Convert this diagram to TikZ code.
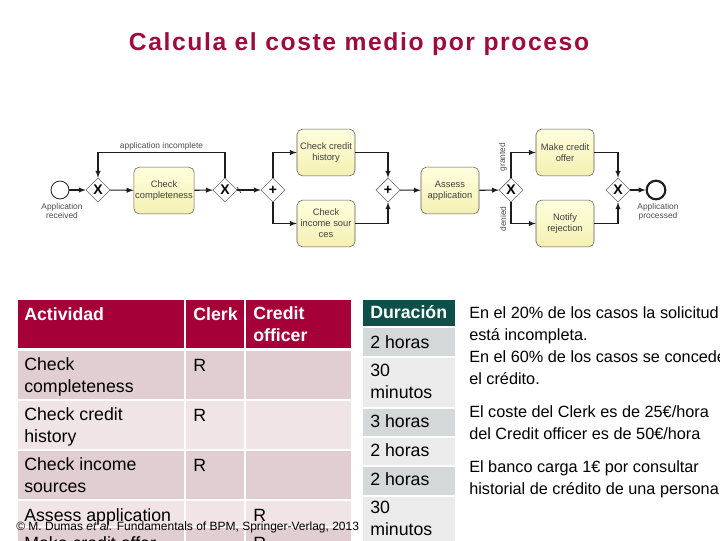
\documentclass[tikz,border=0pt]{standalone}
\usepackage{fontspec}
\setmainfont{Liberation Sans}
\newfontfamily\titlefont[LetterSpace=6.5]{Liberation Sans}
\usetikzlibrary{shapes.geometric}
\usepackage{xcolor}
\definecolor{titlered}{RGB}{158,12,62}
\definecolor{headred}{RGB}{166,0,56}
\definecolor{rowdark}{RGB}{225,206,211}
\definecolor{rowlight}{RGB}{240,228,231}
\definecolor{headgreen}{RGB}{14,80,72}
\definecolor{graydark}{RGB}{213,216,216}
\definecolor{graylight}{RGB}{235,235,235}
\definecolor{taskfill}{RGB}{255,255,222}
\definecolor{taskfill2}{RGB}{244,240,178}
\definecolor{bpmnline}{RGB}{30,30,30}

\begin{document}
\begin{tikzpicture}[x=0.75pt,y=-0.75pt]
\useasboundingbox (0,0) rectangle (720,540);
\clip (0,0) rectangle (720,540);
%%%%%%%%%%%%%%%%%%%%%%%%%%%%%%%%%%%%%%%%%%%%%%%%%%%%%%%%%%%%%%
%TITLE
\node [font=\titlefont\bfseries\fontsize{18.5}{22}\selectfont,text=titlered,anchor=base] (title) at (359,50) {Calcula el coste medio por proceso};

%%%%%%%%%%%%%%%%%%%%%%%%%%%%%%%%%%%%%%%%%%%%%%%%%%%%%%%%%%%%%%
%BPMN
%vars
\tikzstyle{event}=[circle,draw=bpmnline,fill=white,minimum size=13.5pt,inner sep=0pt,line width=0.6pt]
\tikzstyle{endevent}=[circle,draw=bpmnline,fill=white,minimum size=14pt,inner sep=0pt,line width=1.6pt]
\tikzstyle{gateway}=[diamond,draw=black!60,fill=white,minimum size=18pt,inner sep=0pt,line width=0.4pt,font=\bfseries\fontsize{10.5}{10.5}\selectfont]
\tikzstyle{task}=[rectangle,rounded corners=4pt,draw=black!65,top color=taskfill,bottom color=taskfill2,minimum width=43.5pt,minimum height=35pt,inner sep=1pt,align=center,font=\fontsize{7}{8.2}\selectfont,text=black!75]
\tikzstyle{flow}=[->,>=latex,line width=0.8pt,draw=bpmnline]
\tikzstyle{small}=[font=\fontsize{6.3}{7}\selectfont,text=black!70,align=center,inner sep=0pt]

%events and gateways
\node[event] (start) at (60,190) {};
\node[gateway] (gw1) at (98,190) {X};
\node[gateway] (gw2) at (225,190) {X};
\node[gateway] (andsplit) at (273,190) {+};
\node[gateway] (andjoin) at (388,190) {+};
\node[gateway] (gw3) at (511,190) {X};
\node[gateway] (gw4) at (618,190) {X};
\node[endevent] (endev) at (656,190) {};

%tasks
\node[task] (check) at (164,190.5) {Check\\completeness};
\node[task] (credit) at (326,152.5) {Check credit\\history};
\node[task] (income) at (326,223.5) {Check\\income sour\\ces};
\node[task] (assess) at (450,190.5) {Assess\\application};
\node[task] (offer) at (565,152.5) {Make credit\\offer};
\node[task] (notify) at (565,223.5) {Notify\\rejection};

%labels
\node[small] (lblreceived) at (62,211) {Application\\received};
\node[small] (lblprocessed) at (658,212) {Application\\processed};
\node[small,rotate=90] (lblgranted) at (503,157) {granted};
\node[small,rotate=90] (lbldenied) at (503,219) {denied};

%flows
\draw[flow] (start) -- (gw1);
\draw[flow] (gw1) -- (check);
\draw[flow] (check) -- (gw2);
\draw[flow] (gw2) -- (andsplit);
\draw[line width=0.5pt,bpmnline] (237,187) -- (241,193);
\draw[flow] (gw2.north) -- ++(0,-25) -| node[pos=0.25,above=1.5pt,small] (lblincomplete) {application incomplete} (gw1.north);
\draw[flow] (andsplit.north) |- (credit.west);
\draw[flow] (andsplit.south) |- (income.west);
\draw[flow] (credit.east) -| (andjoin.north);
\draw[flow] (income.east) -| (andjoin.south);
\draw[flow] (andjoin) -- (assess);
\draw[flow] (assess) -- (gw3);
\draw[flow] (gw3.north) |- (offer.west);
\draw[flow] (gw3.south) |- (notify.west);
\draw[flow] (offer.east) -| (gw4.north);
\draw[flow] (notify.east) -| (gw4.south);
\draw[flow] (gw4) -- (endev);

%%%%%%%%%%%%%%%%%%%%%%%%%%%%%%%%%%%%%%%%%%%%%%%%%%%%%%%%%%%%%%
%TABLE ROLES
%(base of a node = base of its last line)
\tikzstyle{cell}=[anchor=base west,inner sep=0pt,align=left,font=\fontsize{13.3}{15.8}\selectfont]
\tikzstyle{headcell}=[cell,text=white,font=\bfseries\fontsize{13.3}{15.8}\selectfont]

%header
\fill[headred] (18,300) rectangle (184,348);
\fill[headred] (186,300) rectangle (244,348);
\fill[headred] (246,300) rectangle (351,348);
%rows
\fill[rowdark] (18,351) rectangle (184,399);
\fill[rowdark] (186,351) rectangle (244,399);
\fill[rowdark] (246,351) rectangle (351,399);
\fill[rowlight] (18,401) rectangle (184,449);
\fill[rowlight] (186,401) rectangle (244,449);
\fill[rowlight] (246,401) rectangle (351,449);
\fill[rowdark] (18,451) rectangle (184,499);
\fill[rowdark] (186,451) rectangle (244,499);
\fill[rowdark] (246,451) rectangle (351,499);
\fill[rowlight] (18,501) rectangle (184,526);
\fill[rowlight] (186,501) rectangle (244,526);
\fill[rowlight] (246,501) rectangle (351,526);
\fill[rowdark] (18,528) rectangle (184,556);
\fill[rowdark] (186,528) rectangle (244,556);
\fill[rowdark] (246,528) rectangle (351,556);

\node[headcell] (hact) at (24,320) {Actividad};
\node[headcell] (hclerk) at (193,320) {Clerk};
\node[headcell] (hofficer) at (253,341) {Credit\\officer};

\node[cell] (act1) at (24,392) {Check\\completeness};
\node[cell] (clerk1) at (193,371) {R};
\node[cell] (act2) at (24,442) {Check credit\\history};
\node[cell] (clerk2) at (193,421) {R};
\node[cell] (act3) at (24,492) {Check income\\sources};
\node[cell] (clerk3) at (193,471) {R};
\node[cell] (act4) at (24,521) {Assess application};
\node[cell] (officer4) at (253,521) {R};
\node[cell] (act5) at (24,549) {Make credit offer};
\node[cell] (officer5) at (253,549) {R};

%%%%%%%%%%%%%%%%%%%%%%%%%%%%%%%%%%%%%%%%%%%%%%%%%%%%%%%%%%%%%%
%TABLE DURATION
\fill[headgreen] (363,300) rectangle (455,326);
\fill[graydark] (363,328) rectangle (455,356);
\fill[graylight] (363,358) rectangle (455,407);
\fill[graydark] (363,409) rectangle (455,436);
\fill[graylight] (363,438) rectangle (455,465);
\fill[graydark] (363,467) rectangle (455,495);
\fill[graylight] (363,497) rectangle (455,546);

\node[headcell] (hdur) at (370,318) {Duración};
\node[cell] (dur1) at (370,348) {2 horas};
\node[cell] (dur2) at (370,398) {30\\minutos};
\node[cell] (dur3) at (370,427) {3 horas};
\node[cell] (dur4) at (370,456) {2 horas};
\node[cell] (dur5) at (370,485) {2 horas};
\node[cell] (dur6) at (370,535) {30\\minutos};

%%%%%%%%%%%%%%%%%%%%%%%%%%%%%%%%%%%%%%%%%%%%%%%%%%%%%%%%%%%%%%
%NOTES
\tikzstyle{note}=[anchor=base west,inner sep=0pt,align=left,font=\fontsize{12.2}{16.5}\selectfont]
\node[note] (note1) at (469,384) {En el 20\% de los casos la solicitud\\está incompleta.\\En el 60\% de los casos se concede\\el crédito.};
\node[note] (note2) at (469,439) {El coste del Clerk es de 25€/hora\\del Credit officer es de 50€/hora};
\node[note] (note3) at (469,494) {El banco carga 1€ por consultar\\historial de crédito de una persona};

%FOOTER
\node[anchor=base west,inner sep=0pt,font=\fontsize{9}{10}\selectfont] (footer) at (16,530) {© M. Dumas \textit{et al.} Fundamentals of BPM, Springer-Verlag, 2013};
\end{tikzpicture}
\end{document}
